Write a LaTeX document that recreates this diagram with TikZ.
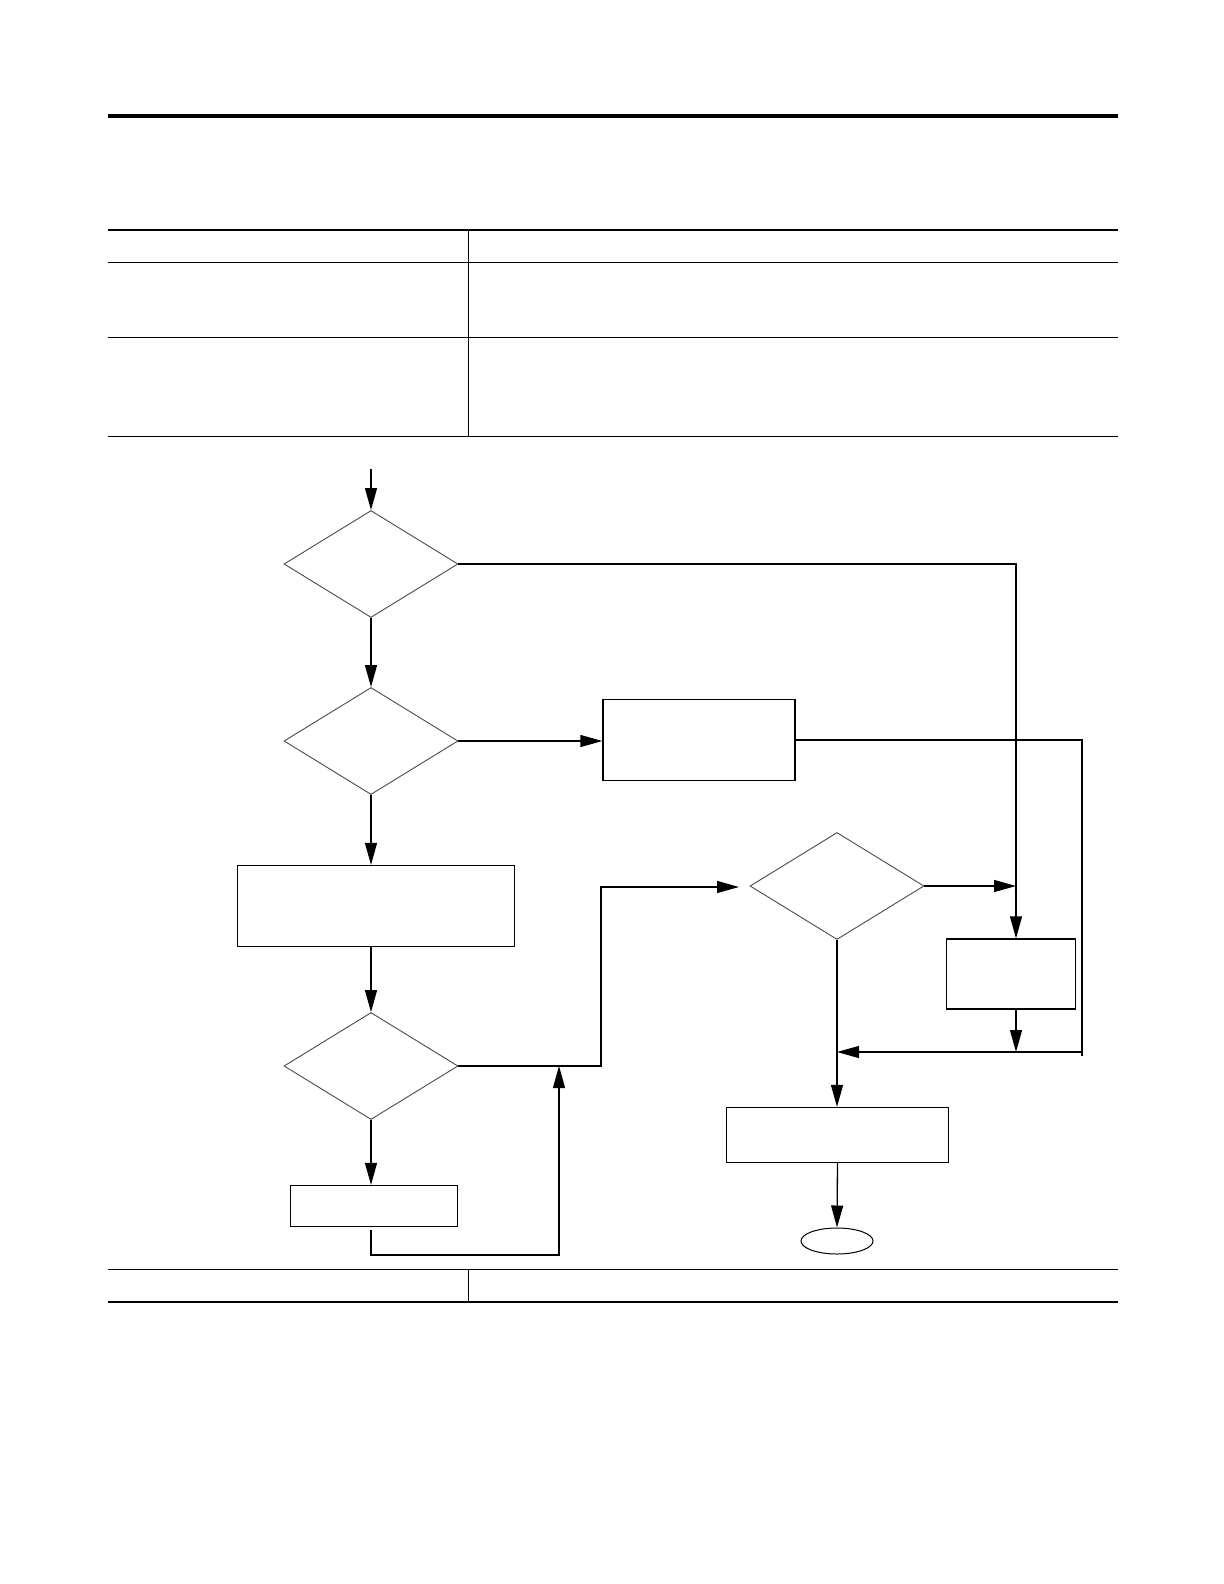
\documentclass[tikz,border=0pt]{standalone}
\usetikzlibrary{arrows.meta,shapes.geometric,calc}
\definecolor{ink}{HTML}{000000}
\definecolor{edge}{HTML}{4A4A4A}

\begin{document}
\begin{tikzpicture}[x=0.5pt, y=-0.5pt,
    decide/.style={diamond, draw=edge, line width=0.45pt, minimum width=87pt,
                   minimum height=53.5pt, inner sep=0pt},
    task/.style={rectangle, draw=ink, line width=0.65pt, inner sep=0pt},
    flow/.style={draw=ink, line width=0.65pt},
    go/.style={flow, -{Triangle[length=11pt, width=6pt]}}]
  \useasboundingbox (0,0) rectangle (1224,1584);
  % page rule and the two tables
  \fill[ink] (108,114) rectangle (1118,118);
  \draw[ink, line width=1pt] (108,230) -- (1118,230);
  \foreach \y in {262,337,436}{
    \draw[ink, line width=0.5pt] (108,\y) -- (1118,\y);}
  \draw[ink, line width=0.4pt] (468,230) -- (468,436);
  \draw[ink, line width=0.5pt] (108,1269) -- (1118,1269);
  \draw[ink, line width=1pt] (108,1302) -- (1118,1302);
  \draw[ink, line width=0.4pt] (468,1269) -- (468,1302);
  % left column
  \node[decide] (d1) at (371,564) {};
  \node[decide] (d2) at (371,741) {};
  \node[task, minimum width=138.5pt, minimum height=40.5pt] (b2) at (376,906) {};
  \node[decide] (d3) at (371,1066) {};
  \node[task, minimum width=83.5pt, minimum height=20.5pt] (b3) at (374,1206) {};
  % right part
  \node[task, minimum width=96pt, minimum height=40.5pt] (b1) at (699,740) {};
  \node[decide] (d4) at (837,886) {};
  \node[task, minimum width=64.7pt, minimum height=35pt] (b4) at (1011,974) {};
  \node[task, minimum width=111pt, minimum height=27.5pt] (b5) at (837.5,1135) {};
  \node[ellipse, draw=ink, line width=0.5pt, minimum width=36pt, minimum height=13pt,
        inner sep=0pt] (stop) at (837,1241) {};
  % bend points
  \coordinate (in) at (371,469);
  \coordinate (c1) at (1016,564);
  \coordinate (c2) at (1082,1052);
  \coordinate (c3) at (601,887);
  \coordinate (c4) at (739,887);
  \coordinate (c5) at (559,1255);
  % connectors
  \draw[go] (in) -- (d1.north);
  \draw[go] (d1.south) -- (d2.north);
  \draw[go] (d1.east) -- (c1) -- (c1 |- b4.north);
  \draw[go] (d2.east) -- (d2.east -| b1.west);
  \draw[go] (d2.south) -- (d2.south |- b2.north);
  \draw[go] (d3.north |- b2.south) -- (d3.north);
  \draw[go] (d3.south) -- (d3.south |- b3.north);
  \draw[go] (d3.east) -- (d3.east -| c3) -- (c3) -- (c4);
  \draw[go] ($(d3.south |- b3.south)+(0,3)$) -- (d3.south |- c5) -- (c5) -- (c5 |- d3.east);
  \draw[flow] (b1.east) -- (b1.east -| c2) -- ($(c2)+(0,4)$);
  \draw[go] (c2) -- (c2 -| d4.south);
  \draw[go] (d4.east) -- (c1 |- d4.east);
  \draw[go] (c1 |- b4.south) -- (c1 |- c2);
  \draw[go] (d4.south) -- (d4.south |- b5.north);
  \draw[go] (b5.south) -- (stop.north);
\end{tikzpicture}
\end{document}
